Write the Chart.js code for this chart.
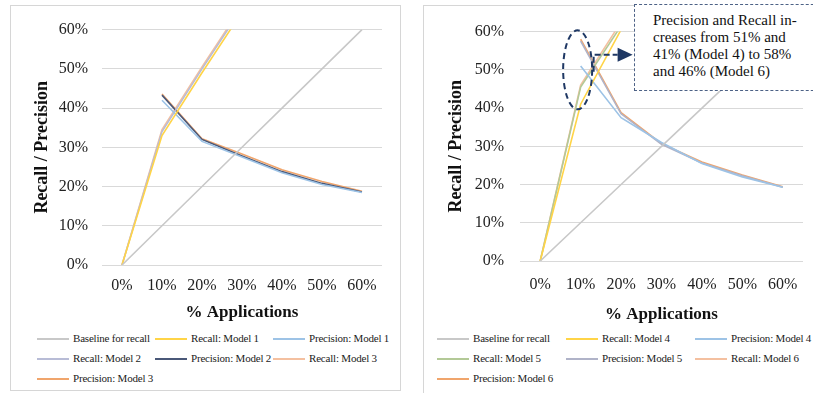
<!DOCTYPE html>
<html lang="en">
<head>
<meta charset="UTF-8">
<title>Recall / Precision by % Applications</title>
<script src="https://cdn.jsdelivr.net/npm/chart.js"></script>
<style>
    body {
        margin: 0;
        width: 813px;
        height: 393px;
        overflow: hidden;
        background: #fff;
        font-family: "Liberation Serif", "Times New Roman", serif;
        position: relative;
    }
    .panel {
        position: absolute;
        border: 1px solid #d6d6d6;
        box-sizing: border-box;
        background: #fff;
    }
    #panelLeft { left: 10px; top: 5px; width: 391px; height: 386px; }
    #panelRight { left: 423px; top: 5px; width: 410px; height: 400px; }
    .panel canvas { position: absolute; left: 0; top: 0; }
    .legend {
        position: absolute;
        top: 322px;
        font-family: "Liberation Serif", serif;
        font-size: 11px;
        letter-spacing: -0.2px;
        color: #222;
    }
    .legend .item {
        position: absolute;
        height: 20px;
        line-height: 20px;
        white-space: nowrap;
    }
    .legend .swatch {
        display: inline-block;
        width: 32px;
        height: 2px;
        vertical-align: middle;
        margin-right: 4px;
    }
    #note {
        position: absolute;
        left: 634px;
        top: 4px;
        width: 200px;
        height: 87px;
        box-sizing: border-box;
        border: 1.5px dashed #4d6286;
        background: #fff;
        font-size: 15px;
        line-height: 17px;
        color: #111;
        padding: 7px 0 0 18px;
    }
</style>
</head>
<body>
<div class="panel" id="panelLeft">
    <canvas id="chartLeft" width="389" height="322"></canvas>
    <div class="legend" id="legendLeft"></div>
</div>
<div class="panel" id="panelRight">
    <canvas id="chartRight" width="392" height="322"></canvas>
    <div class="legend" id="legendRight"></div>
</div>
<div id="note">Precision and Recall in-<br>creases from 51% and<br>41% (Model 4) to 58%<br>and 46% (Model 6)</div>

<script>
// x categories and y ticks
const applications = ['0%', '10%', '20%', '30%', '40%', '50%', '60%'];
const yTicks = [0, 10, 20, 30, 40, 50, 60];

// left chart: models 1-3 (values in %)
const baseline = [0, 10, 20, 30, 40, 50, 60];
const recallM1 = [0, 33, 49, 64.5, 74, 81, 85];
const precisionM1 = [null, 42, 31.5, 27.5, 23.5, 20.5, 18.5];
const recallM2 = [0, 34, 50, 65.5, 75, 83, 86.5];
const precisionM2 = [null, 43.3, 32, 27.8, 23.8, 20.8, 18.6];
const recallM3 = [0, 34.5, 50.5, 66, 76, 83.5, 87];
const precisionM3 = [null, 43.6, 32.2, 28.3, 24.3, 21.3, 18.8];

// right chart: models 4-6
const recallM4 = [0, 41, 60.5, 75, 82, 88.5, 93];
const precisionM4 = [null, 51, 37.5, 31, 25.5, 22, 19.3];
const recallM5 = [0, 45.5, 61.5, 73.5, 82.5, 89.5, 93];
const precisionM5 = [null, 57.5, 38.5, 30.5, 25.6, 22.3, 19.3];
const recallM6 = [0, 46, 62.5, 74, 83, 90, 93.5];
const precisionM6 = [null, 58, 38.8, 30.7, 25.9, 22.5, 19.4];

const colors = {
    baseline: '#c8c8c8',
    yellow: '#ffd447',
    lightBlue: '#9dc3e6',
    lavender: '#b8bcd6',
    navy: '#4a5878',
    pink: '#f4c0a0',
    orange: '#f0a56c',
    green: '#b3c997',
    grayLav: '#b0b3c8'
};

const leftSeries = [
    ['Baseline for recall', baseline, colors.baseline],
    ['Recall: Model 1', recallM1, colors.yellow],
    ['Precision: Model 1', precisionM1, colors.lightBlue],
    ['Recall: Model 2', recallM2, colors.lavender],
    ['Precision: Model 2', precisionM2, colors.navy],
    ['Recall: Model 3', recallM3, colors.pink],
    ['Precision: Model 3', precisionM3, colors.orange]
];

const rightSeries = [
    ['Baseline for recall', baseline, colors.baseline],
    ['Recall: Model 4', recallM4, colors.yellow],
    ['Precision: Model 4', precisionM4, colors.lightBlue],
    ['Recall: Model 5', recallM5, colors.green],
    ['Precision: Model 5', precisionM5, colors.grayLav],
    ['Recall: Model 6', recallM6, colors.pink],
    ['Precision: Model 6', precisionM6, colors.orange]
];

// dashed ellipse + elbow arrow on the right chart
const calloutPlugin = {
    id: 'callout',
    afterDatasetsDraw(chart) {
        const ctx = chart.ctx;
        const xs = chart.scales.x, ys = chart.scales.y;
        const cx = xs.getPixelForValue(1) - 3;
        const cy = ys.getPixelForValue(50);
        ctx.save();
        ctx.strokeStyle = '#1f3864';
        ctx.fillStyle = '#1f3864';
        ctx.lineWidth = 2;
        ctx.setLineDash([6, 4]);
        ctx.beginPath();
        ctx.ellipse(cx, cy, 14.5, 39.5, 0, 0, Math.PI * 2);
        ctx.stroke();
        ctx.setLineDash([6, 3]);
        ctx.beginPath();
        ctx.moveTo(cx + 16, cy + 2);
        ctx.lineTo(cx + 16, cy - 15);
        ctx.lineTo(cx + 40, cy - 15);
        ctx.stroke();
        ctx.setLineDash([]);
        ctx.beginPath();
        ctx.moveTo(cx + 40, cy - 22);
        ctx.lineTo(cx + 55, cy - 15);
        ctx.lineTo(cx + 40, cy - 8);
        ctx.closePath();
        ctx.fill();
        ctx.restore();
    }
};

function makeChart(id, series, opt) {
    const datasets = series.map(s => ({
        label: s[0],
        data: s[1],
        borderColor: s[2],
        backgroundColor: s[2],
        borderWidth: 1.6,
        pointRadius: 0,
        tension: 0,
        spanGaps: false
    }));
    return new Chart(document.getElementById(id), {
        type: 'line',
        data: { labels: applications, datasets: datasets },
        plugins: opt.plugins || [],
        options: {
            responsive: false,
            animation: false,
            layout: { padding: { left: 0, right: opt.padRight, top: opt.padTop, bottom: 0 } },
            plugins: { legend: { display: false }, tooltip: { enabled: false } },
            scales: {
                x: {
                    type: 'category',
                    offset: true,
                    grid: { display: false, drawTicks: false },
                    border: { display: false },
                    ticks: {
                        color: '#222',
                        padding: opt.xTickPad,
                        maxRotation: 0,
                        font: { family: 'Liberation Serif', size: 16 }
                    },
                    title: {
                        display: true,
                        text: '% Applications',
                        color: '#111',
                        padding: { top: 0, bottom: opt.xTitlePad },
                        font: { family: 'Liberation Serif', size: 17, weight: 'bold' }
                    },
                    afterFit: s => { s.height = opt.xHeight; }
                },
                y: {
                    min: 0,
                    max: 60,
                    afterBuildTicks: s => { s.ticks = yTicks.map(v => ({ value: v })); },
                    grid: { color: '#d9d9d9', lineWidth: 1, drawTicks: false },
                    border: { display: false },
                    ticks: {
                        color: '#222',
                        padding: opt.yTickPad,
                        callback: v => v + '%',
                        font: { family: 'Liberation Serif', size: 16 }
                    },
                    title: {
                        display: true,
                        text: 'Recall / Precision',
                        color: '#111',
                        padding: { top: opt.yTitlePad, bottom: 0 },
                        font: { family: 'Liberation Serif', size: 18, weight: 'bold' }
                    },
                    afterFit: s => { s.width = opt.yWidth; }
                }
            }
        }
    });
}

function makeLegend(id, series, x0, colW) {
    const box = document.getElementById(id);
    series.forEach((s, i) => {
        const item = document.createElement('div');
        item.className = 'item';
        item.style.left = (x0 + (i % 3) * colW) + 'px';
        item.style.top = (Math.floor(i / 3) * 20) + 'px';
        const sw = document.createElement('span');
        sw.className = 'swatch';
        sw.style.background = s[2];
        item.appendChild(sw);
        item.appendChild(document.createTextNode(s[0]));
        box.appendChild(item);
    });
}

makeChart('chartLeft', leftSeries, {
    padRight: 18, padTop: 19, xHeight: 63, xTickPad: 11, xTitlePad: 5,
    yWidth: 91, yTickPad: 14, yTitlePad: 21
});
makeChart('chartRight', rightSeries, {
    padRight: 13, padTop: 19, xHeight: 67, xTickPad: 14, xTitlePad: 3,
    yWidth: 96, yTickPad: 16, yTitlePad: 22, plugins: [calloutPlugin]
});

makeLegend('legendLeft', leftSeries, 26, 118);
makeLegend('legendRight', rightSeries, 13, 129);
</script>
</body>
</html>
